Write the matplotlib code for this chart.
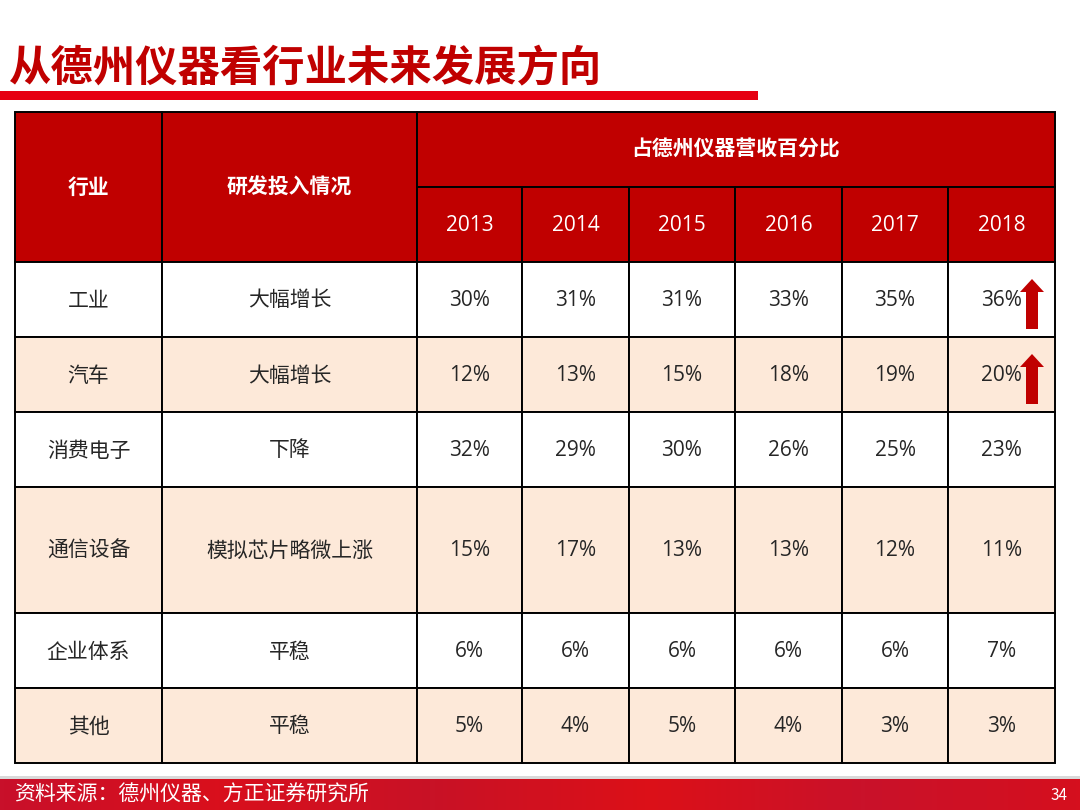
import matplotlib.pyplot as plt
import numpy as np
from matplotlib.patches import Rectangle, FancyArrow
from matplotlib.colors import LinearSegmentedColormap

plt.rcParams['font.family'] = ['Noto Sans CJK SC', 'DejaVu Sans']
NUM_FONT = ['Open Sans', 'Noto Sans CJK SC']

title = "从德州仪器看行业未来发展方向"
source = "资料来源：德州仪器、方正证券研究所"
page_no = "34"

col_head = ["行业", "研发投入情况"]
group_head = "占德州仪器营收百分比"
years = ["2013", "2014", "2015", "2016", "2017", "2018"]
industries = ["工业", "汽车", "消费电子", "通信设备", "企业体系", "其他"]
rd_input = ["大幅增长", "大幅增长", "下降", "模拟芯片略微上涨", "平稳", "平稳"]
shares = [
    [30, 31, 31, 33, 35, 36],
    [12, 13, 15, 18, 19, 20],
    [32, 29, 30, 26, 25, 23],
    [15, 17, 13, 13, 12, 11],
    [6, 6, 6, 6, 6, 7],
    [5, 4, 5, 4, 3, 3],
]
rising = [True, True, False, False, False, False]

RED = "#C00000"
PEACH = "#FDE9D9"
TXT = "#262626"

# layout in pixels
col_x = [15, 162, 417, 522, 629, 735, 842, 948, 1055]
head_y = [112, 187, 262]
row_h = [75, 75, 75, 126, 75, 75]

fig = plt.figure(figsize=(10.8, 8.1), dpi=100)
ax = fig.add_axes([0, 0, 1, 1])
ax.set_xlim(0, 1080)
ax.set_ylim(810, 0)
ax.axis("off")

# title + underline
ax.text(9, 68, title, fontsize=30.5, fontweight="bold", color=RED,
        ha="left", va="center")
ax.add_patch(Rectangle((0, 91), 758, 9, color="#E60012", lw=0))

lw = 1.4
# header
for i, name in enumerate(col_head):
    ax.add_patch(Rectangle((col_x[i], head_y[0]), col_x[i + 1] - col_x[i], head_y[2] - head_y[0],
                           facecolor=RED, edgecolor="black", lw=lw))
    ax.text((col_x[i] + col_x[i + 1]) / 2, (head_y[0] + head_y[2]) / 2, name,
            color="white", fontsize=15, fontweight="bold", ha="center", va="center")
ax.add_patch(Rectangle((col_x[2], head_y[0]), col_x[-1] - col_x[2], head_y[1] - head_y[0],
                       facecolor=RED, edgecolor="black", lw=lw))
ax.text((col_x[2] + col_x[-1]) / 2, (head_y[0] + head_y[1]) / 2, group_head,
        color="white", fontsize=15, fontweight="bold", ha="center", va="center")
for j, yr in enumerate(years):
    x0, x1 = col_x[j + 2], col_x[j + 3]
    ax.add_patch(Rectangle((x0, head_y[1]), x1 - x0, head_y[2] - head_y[1],
                           facecolor=RED, edgecolor="black", lw=lw))
    ax.text((x0 + x1) / 2, (head_y[1] + head_y[2]) / 2 + 1, yr, family=NUM_FONT,
            color="white", fontsize=15, ha="center", va="center")

# body
y = head_y[2]
for r, ind in enumerate(industries):
    h = row_h[r]
    fc = "white" if r % 2 == 0 else PEACH
    cells = [ind, rd_input[r]] + [f"{v}%" for v in shares[r]]
    for c, txt in enumerate(cells):
        x0, x1 = col_x[c], col_x[c + 1]
        ax.add_patch(Rectangle((x0, y), x1 - x0, h, facecolor=fc,
                               edgecolor="black", lw=lw))
        fam = NUM_FONT if c >= 2 else None
        ax.text((x0 + x1) / 2, y + h / 2 + 1, txt, color=TXT, fontsize=15,
                family=fam, ha="center", va="center")
    if rising[r]:
        xa = col_x[-2] + 84
        ax.add_patch(FancyArrow(xa, y + h - 8, 0, -(h - 25), width=12,
                                head_width=24, head_length=13,
                                length_includes_head=True, color=RED, lw=0))
    y += h

# footer band
grad = LinearSegmentedColormap.from_list(
    "foot", ["#C8102A", "#D90F1C", "#C81226", "#DC1018", "#C9122A", "#D50F1E"])
ax.imshow(np.linspace(0, 1, 256)[None, :], cmap=grad, aspect="auto",
          extent=(0, 1080, 810, 778), zorder=1)
ax.add_patch(Rectangle((0, 776), 1080, 2.5, color="#D9D9D9", lw=0))
ax.text(14, 795, source, color="white", fontsize=15, ha="left", va="center", zorder=3)
ax.text(1068, 795, page_no, color="white", fontsize=11, ha="right", va="center", zorder=3)

ax.set_xlim(0, 1080)
ax.set_ylim(810, 0)
fig.savefig("out.png", dpi=100)
